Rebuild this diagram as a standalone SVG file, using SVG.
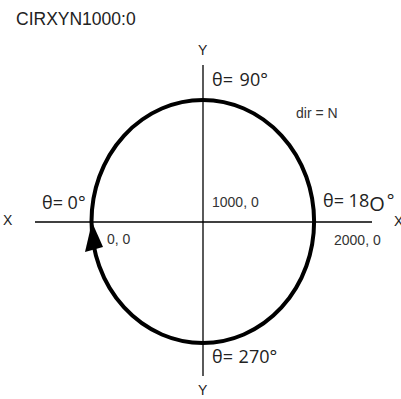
<svg xmlns="http://www.w3.org/2000/svg" width="401" height="399" viewBox="0 0 401 399">
<style>
.ax{stroke:#000;stroke-width:1.3;fill:none}
.t{font-family:"Liberation Sans",Arial,sans-serif;fill:#222}
.s{font-family:"Liberation Sans",Arial,sans-serif;fill:#333;font-size:14px}
.th{font-family:"Open Sans","DejaVu Sans",sans-serif;fill:#222;font-size:18px}
</style>
<rect width="401" height="399" fill="#fff"/>
<text class="t" x="16" y="25" font-size="17.5">CIRXYN1000:0</text>
<g id="connectors">
<line class="ax" x1="35" y1="222" x2="372" y2="222"/>
<line class="ax" x1="203" y1="65" x2="203" y2="376"/>
</g>
<g id="circle">
<ellipse cx="202.8" cy="221.5" rx="111.3" ry="121.5" fill="none" stroke="#000" stroke-width="4"/>
<polygon points="92,222 85,252 103,247" fill="#000"/>
</g>
<g id="labels">
<text class="t" x="198" y="55" font-size="14">Y</text>
<text class="t" x="198" y="395" font-size="14">Y</text>
<text class="t" x="3" y="225" font-size="14">X</text>
<text class="t" x="394" y="226" font-size="14">X</text>
<text class="th" x="212" y="86">θ= <tspan dx="2">90°</tspan></text>
<text class="s" x="296" y="118">dir = N</text>
<text class="th" x="42" y="209">θ= 0°</text>
<text class="s" x="107" y="244">0, 0</text>
<text class="s" x="212" y="207">1000, 0</text>
<text class="th" x="323" y="207">θ= 18<tspan font-size="20" dy="4">O</tspan><tspan dx="2" dy="-4">°</tspan></text>
<text class="s" x="334" y="245">2000, 0</text>
<text class="th" x="212" y="363">θ= <tspan dx="1">270°</tspan></text>
</g>
</svg>
